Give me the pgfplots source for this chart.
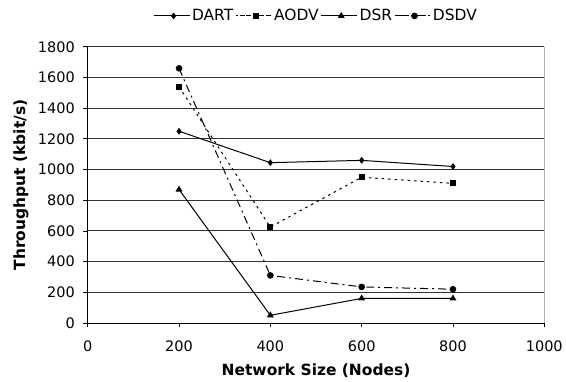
\documentclass[border=0pt]{standalone}
\usepackage{pgfplots}
\pgfplotsset{compat=1.18}
\usepackage{fontspec}
\setmainfont{DejaVu Sans}
\begin{document}
\begin{tikzpicture}
\begin{axis}[
  scale only axis,
  width=458pt, height=277pt,
  xmin=0, xmax=1000, ymin=0, ymax=1800,
  xtick={0,200,...,1000},
  ytick={0,200,...,1800},
  axis x line*=bottom,
  axis y line*=left,
  ymajorgrids,
  grid style={black!80, line width=0.9pt},
  tick style={black, line width=0.8pt},
  axis line style={black, line width=0.9pt},
  tick align=outside,
  major tick length=4.5pt,
  x tick label style={yshift=-10pt},
  y tick label style={xshift=-5pt},
  tick label style={font=\fontsize{14.5}{16}\selectfont},
  /pgf/number format/assume math mode=true,
  /pgf/number format/1000 sep={},
  xlabel={\textbf{Network Size (Nodes)}},
  ylabel={\textbf{Throughput (kbit/s)}},
  label style={font=\fontsize{15.5}{17}\selectfont},
  xlabel style={at={(axis description cs:0.5,0)}, anchor=center, yshift=-48pt},
  ylabel style={at={(axis description cs:0,0.5)}, anchor=center, rotate=0, yshift=67pt},
  legend style={draw=none, fill=none, at={(axis description cs:0.5,1)}, anchor=center, yshift=31pt, legend columns=-1,
    font=\fontsize{15.5}{17}\selectfont,
    nodes={inner xsep=2pt},
    /tikz/every even column/.append style={column sep=0pt},
    /tikz/every odd column/.append style={column sep=0pt}},
  legend image code/.code={\path (-4pt,0pt) -- (32pt,0pt); \draw[#1] (0pt,0pt) -- (32pt,0pt); \draw[#1, solid] plot coordinates {(16pt,0pt)};},
  clip=false,
]
\path (rel axis cs:-0.19214,-0.20578) rectangle (rel axis cs:1.04367,1.16968);
\draw[gray!60, line width=1.2pt] (rel axis cs:1,0) -- (rel axis cs:1,1);
\addplot[black, line width=1pt, mark=diamond*, mark size=2.6pt] coordinates {(200,1250) (400,1045) (600,1060) (800,1020)};
\addlegendentry{DART}
\addplot[black, line width=1pt, dash pattern=on 2.5pt off 4pt, mark=square*, mark size=2.5pt, mark options={solid}] coordinates {(200,1540) (400,625) (600,950) (800,910)};
\addlegendentry{AODV}
\addplot[black, line width=1pt, mark=triangle*, mark size=3pt, mark options={solid}] coordinates {(200,870) (400,50) (600,160) (800,160)};
\addlegendentry{DSR}
\addplot[black, line width=1pt, dash pattern=on 8pt off 4pt on 2pt off 4pt, mark=*, mark size=2.8pt, mark options={solid}] coordinates {(200,1660) (400,310) (600,235) (800,220)};
\addlegendentry{DSDV}
\end{axis}
\end{tikzpicture}
\end{document}
